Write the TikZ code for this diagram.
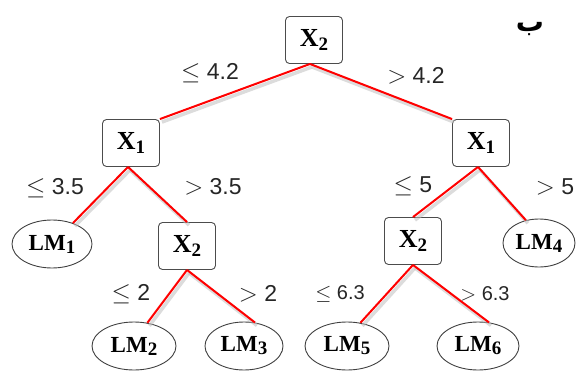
\documentclass[tikz,border=0pt]{standalone}
\usepackage{fontspec}
\usetikzlibrary{shapes.geometric}
\setmainfont{Liberation Serif}
\newfontfamily\lblfont{Liberation Sans}
\newfontfamily\arabicfont[Script=Arabic]{DejaVu Sans}
\TeXXeTstate=1
\newcommand{\xsb}[1]{\raisebox{-4pt}{\fontsize{19}{20}\selectfont #1}}
\newcommand{\lmsb}[1]{\raisebox{-3pt}{\fontsize{19}{20}\selectfont #1}}
\begin{document}
\begin{tikzpicture}[x=1pt,y=-1pt,
  splitbox/.style={draw=black!70,line width=0.9pt,rounded corners=4pt,fill=white,
    minimum width=57pt,minimum height=47pt,inner sep=0pt,font=\fontsize{26}{28}\selectfont\bfseries},
  leaf/.style={draw=black!75,line width=0.9pt,ellipse,fill=white,inner sep=0pt,
    minimum height=48pt,font=\fontsize{23}{25}\selectfont\bfseries},
  branch/.style={draw=red,line width=2pt},
  shade/.style={draw=black!25,line width=3.5pt,opacity=0.55},
  lbl/.style={font=\lblfont\fontsize{23}{25}\selectfont,text=black!85},
  slbl/.style={font=\lblfont\fontsize{20}{22}\selectfont,text=black!85}]
\useasboundingbox (0,0) rectangle (584,372);
% nodes
\node[splitbox] (r) at (314,40) {X\xsb{2}};
\node[splitbox] (a) at (131,143) {X\xsb{1}};
\node[splitbox] (b) at (481,143) {X\xsb{1}};
\node[splitbox] (c) at (187,246) {X\xsb{2}};
\node[splitbox] (d) at (413,241) {X\xsb{2}};
\node[leaf,minimum width=80pt] (l1) at (52,244) {LM\lmsb{1}};
\node[leaf,minimum width=72pt] (l4) at (539,243) {LM\lmsb{4}};
\node[leaf,minimum width=84pt] (l2) at (134,346) {LM\lmsb{2}};
\node[leaf,minimum width=78pt] (l3) at (244,346) {LM\lmsb{3}};
\node[leaf,minimum width=84pt] (l5) at (347,346) {LM\lmsb{5}};
\node[leaf,minimum width=82pt] (l6) at (478,346) {LM\lmsb{6}};
% shadows of branches
\begin{scope}[transform canvas={shift={(2pt,-3pt)}}]
\draw[shade] ([xshift=-4pt]r.south) -- (a.north east);
\draw[shade] ([xshift=-4pt]r.south) -- (b.north west);
\draw[shade] ([xshift=-3pt]a.south) -- (l1.45);
\draw[shade] ([xshift=-3pt]a.south) -- (c.north);
\draw[shade] ([xshift=-3pt]b.south) -- (d.north);
\draw[shade] ([xshift=-3pt]b.south) -- (l4.120);
\draw[shade] (c.south) -- (l2.60);
\draw[shade] (c.south) -- (l3.65);
\draw[shade] (d.south) -- (l5.60);
\draw[shade] (d.south) -- (l6.65);
\end{scope}
% branches
\draw[branch] ([xshift=-4pt]r.south) -- (a.north east);
\draw[branch] ([xshift=-4pt]r.south) -- (b.north west);
\draw[branch] ([xshift=-3pt]a.south) -- (l1.45);
\draw[branch] ([xshift=-3pt]a.south) -- (c.north);
\draw[branch] ([xshift=-3pt]b.south) -- (d.north);
\draw[branch] ([xshift=-3pt]b.south) -- (l4.120);
\draw[branch] (c.south) -- (l2.60);
\draw[branch] (c.south) -- (l3.65);
\draw[branch] (d.south) -- (l5.60);
\draw[branch] (d.south) -- (l6.65);
% labels
\node[lbl] (t1) at (210,73) {$\leq$ 4.2};
\node[lbl] (t2) at (416,76) {$>$ 4.2};
\node[lbl] (t3) at (55,188) {$\leq$ 3.5};
\node[lbl] (t4) at (213,187) {$>$ 3.5};
\node[lbl] (t5) at (413,186) {$\leq$ 5};
\node[lbl] (t6) at (555,187) {$>$ 5};
\node[lbl] (t7) at (131,294) {$\leq$ 2};
\node[lbl] (t8) at (258,294) {$>$ 2};
\node[slbl] (t9) at (340,294) {$\leq$ 6.3};
\node[slbl] (t10) at (485,294) {$>$ 6.3};
\node[font=\arabicfont\fontsize{28}{30}\selectfont\bfseries,anchor=base,inner sep=0pt] (ar) at (530,31) {\beginR ب\endR};
\end{tikzpicture}
\end{document}
